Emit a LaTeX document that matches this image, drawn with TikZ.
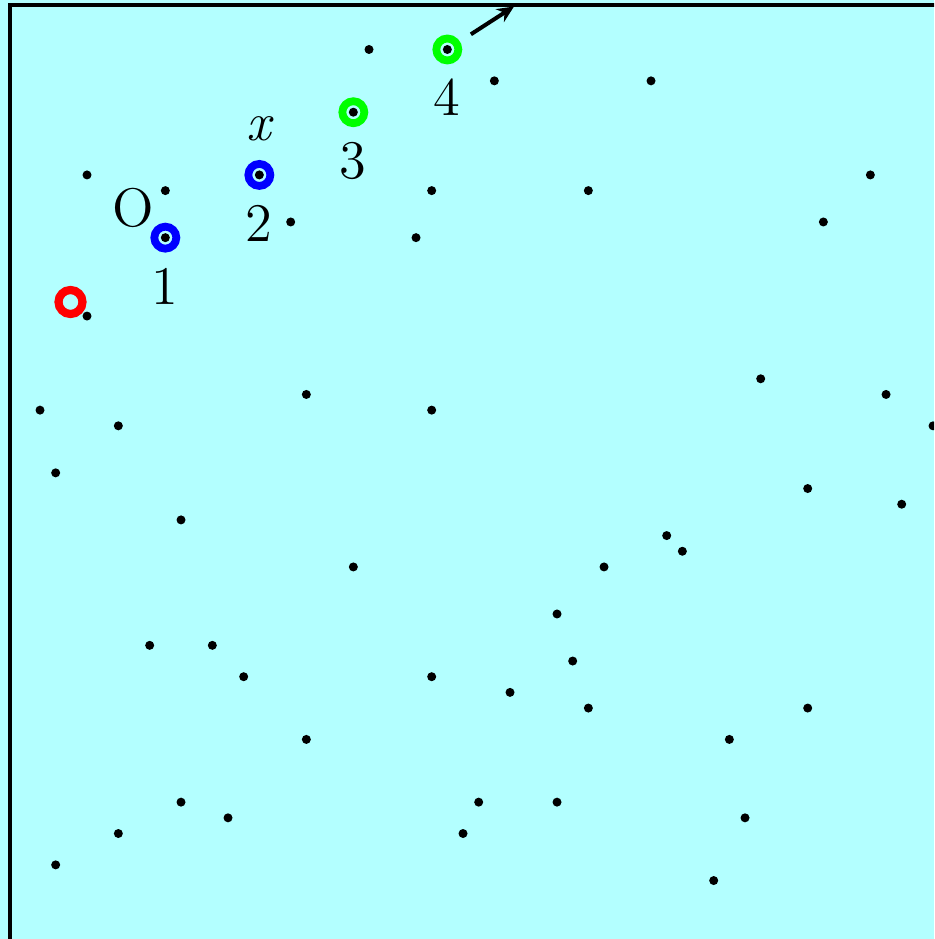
\documentclass[tikz,border=0pt]{standalone}
\usepackage{fontspec}
\usetikzlibrary{arrows.meta}
\definecolor{bgcyan}{RGB}{179,255,255}
\definecolor{myblue}{RGB}{0,0,255}
\definecolor{mygreen}{RGB}{0,255,0}
\definecolor{myred}{RGB}{255,0,0}
\begin{document}
\begin{tikzpicture}[x=0.25pt,y=-0.25pt,
  lbl/.style={font=\fontsize{13.6}{16}\selectfont, inner sep=0pt},
  dotpt/.style={circle, fill=black, inner sep=0pt, minimum size=2.25pt},
  ring/.style={circle, draw=#1, line width=1.95pt, minimum size=5.5pt, inner sep=0pt},
  redring/.style={circle, draw=myred, line width=2.05pt, minimum size=6pt, inner sep=0pt},
  arr/.style={line width=1pt, -{Stealth[length=4.2pt,width=3.8pt]}}]
\useasboundingbox (0,0) rectangle (934,939);
\fill[bgcyan] (0,0) rectangle (934,939);
\clip (0,0) rectangle (934,939);
\draw[line width=1pt] (10.3,1000) -- (10.3,5.4) -- (1000,5.4);
% dots on the grid
\foreach \i/\k [count=\n] in {23/0, 31/2, 41/2, 5/8, 10/9, 27/9, 37/9, 55/8, 18/11, 52/11,
  26/12, 5/17, 48/21, 2/23, 19/22, 27/23, 56/22, 7/24, 59/24, 3/27,
  51/28, 57/29, 11/30, 42/31, 43/32, 22/33, 38/33, 35/36, 9/38, 13/38,
  36/39, 15/40, 27/40, 32/41, 37/42, 51/42, 19/44, 46/44, 11/48, 30/48,
  35/48, 14/49, 47/49, 7/50, 29/50, 3/52, 45/53}
  \node[dotpt] (d\n) at ({8.67+15.667*\i},{49.5+15.68*\k}) {};
% path circles
\node[ring=myblue] (c1) at ({8.67+15.667*10},{49.5+15.68*12}) {};
\node[ring=myblue] (c2) at ({8.67+15.667*16},{49.5+15.68*8}) {};
\node[ring=mygreen] (c3) at ({8.67+15.667*22},{49.5+15.68*4}) {};
\node[ring=mygreen] (c4) at ({8.67+15.667*28},{49.5+15.68*0}) {};
\foreach \c in {1,2,3,4} \node[dotpt] (p\c) at (c\c) {};
\node[redring] (r) at (70.5,302) {};
% labels
\node[lbl] (l1) at (165,286) {1};
\node[lbl] (l2) at (259,223) {2};
\node[lbl] (l3) at (353,161) {3};
\node[lbl] (l4) at (447,97) {4};
\node[lbl] (lx) at (258.5,129) {\itshape x};
\node[lbl] (lo) at (133,207.5) {O};
% arrow
\coordinate (tip) at (514,6.5);
\draw[arr, shorten <=7pt] (c4.center) -- (tip);
\end{tikzpicture}
\end{document}
